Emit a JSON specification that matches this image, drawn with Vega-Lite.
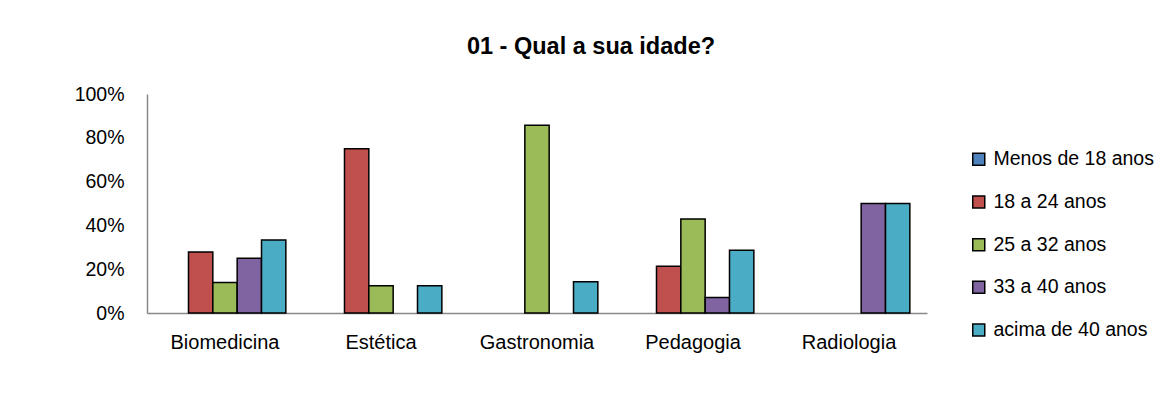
{
  "$schema": "https://vega.github.io/schema/vega-lite/v6.json",
  "width": 780,
  "height": 219,
  "autosize": {"type": "none"},
  "padding": {"left": 147, "top": 94, "right": 247, "bottom": 107},
  "background": "white",
  "title": {
    "text": "01 - Qual a sua idade?",
    "anchor": "middle",
    "frame": "group",
    "dx": 54,
    "offset": 7,
    "baseline": "alphabetic",
    "font": "Liberation Sans",
    "fontSize": 23.5,
    "fontWeight": "bold",
    "color": "#000000"
  },
  "data": {
    "values": [
      {"curso": "Biomedicina", "faixa": "Menos de 18 anos", "pct": 0},
      {"curso": "Biomedicina", "faixa": "18 a 24 anos", "pct": 0.278},
      {"curso": "Biomedicina", "faixa": "25 a 32 anos", "pct": 0.139},
      {"curso": "Biomedicina", "faixa": "33 a 40 anos", "pct": 0.25},
      {"curso": "Biomedicina", "faixa": "acima de 40 anos", "pct": 0.333},
      {"curso": "Estética", "faixa": "Menos de 18 anos", "pct": 0},
      {"curso": "Estética", "faixa": "18 a 24 anos", "pct": 0.75},
      {"curso": "Estética", "faixa": "25 a 32 anos", "pct": 0.125},
      {"curso": "Estética", "faixa": "33 a 40 anos", "pct": 0},
      {"curso": "Estética", "faixa": "acima de 40 anos", "pct": 0.125},
      {"curso": "Gastronomia", "faixa": "Menos de 18 anos", "pct": 0},
      {"curso": "Gastronomia", "faixa": "18 a 24 anos", "pct": 0},
      {"curso": "Gastronomia", "faixa": "25 a 32 anos", "pct": 0.857},
      {"curso": "Gastronomia", "faixa": "33 a 40 anos", "pct": 0},
      {"curso": "Gastronomia", "faixa": "acima de 40 anos", "pct": 0.143},
      {"curso": "Pedagogia", "faixa": "Menos de 18 anos", "pct": 0},
      {"curso": "Pedagogia", "faixa": "18 a 24 anos", "pct": 0.214},
      {"curso": "Pedagogia", "faixa": "25 a 32 anos", "pct": 0.429},
      {"curso": "Pedagogia", "faixa": "33 a 40 anos", "pct": 0.071},
      {"curso": "Pedagogia", "faixa": "acima de 40 anos", "pct": 0.286},
      {"curso": "Radiologia", "faixa": "Menos de 18 anos", "pct": 0},
      {"curso": "Radiologia", "faixa": "18 a 24 anos", "pct": 0},
      {"curso": "Radiologia", "faixa": "25 a 32 anos", "pct": 0},
      {"curso": "Radiologia", "faixa": "33 a 40 anos", "pct": 0.5},
      {"curso": "Radiologia", "faixa": "acima de 40 anos", "pct": 0.5}
    ]
  },
  "mark": {"type": "bar", "stroke": "#000000", "strokeWidth": 1.5},
  "encoding": {
    "x": {
      "field": "curso",
      "type": "nominal",
      "sort": null,
      "scale": {"paddingInner": 0.22, "paddingOuter": 0.11},
      "axis": {
        "title": null,
        "labelAngle": 0,
        "ticks": false,
        "labelPadding": 19,
        "labelFont": "Liberation Sans",
        "labelFontSize": 20,
        "labelColor": "#000000",
        "domainColor": "#898989",
        "domainWidth": 1.5,
        "grid": false
      }
    },
    "xOffset": {
      "field": "faixa",
      "type": "nominal",
      "sort": null,
      "scale": {"paddingInner": 0, "paddingOuter": 0}
    },
    "y": {
      "field": "pct",
      "type": "quantitative",
      "scale": {"domain": [0, 1], "nice": false},
      "axis": {
        "title": null,
        "format": ".0%",
        "values": [0, 0.2, 0.4, 0.6, 0.8, 1],
        "ticks": false,
        "grid": false,
        "labelPadding": 23,
        "labelFont": "Liberation Sans",
        "labelFontSize": 19.5,
        "labelColor": "#000000",
        "domainColor": "#898989",
        "domainWidth": 1.5
      }
    },
    "color": {
      "field": "faixa",
      "type": "nominal",
      "sort": null,
      "scale": {
        "domain": ["Menos de 18 anos", "18 a 24 anos", "25 a 32 anos", "33 a 40 anos", "acima de 40 anos"],
        "range": ["#4F81BD", "#C0504D", "#9BBB59", "#8064A2", "#4BACC6"]
      },
      "legend": {
        "title": null,
        "orient": "none",
        "legendX": 822,
        "legendY": 55.5,
        "padding": 0,
        "symbolType": "square",
        "symbolSize": 144,
        "symbolStrokeColor": "#000000",
        "symbolStrokeWidth": 1.5,
        "symbolOpacity": 1,
        "labelFont": "Liberation Sans",
        "labelFontSize": 19.5,
        "labelColor": "#000000",
        "labelOffset": 5,
        "rowPadding": 21.7,
        "labelLimit": 300
      }
    },
    "strokeOpacity": {
      "condition": {"test": "datum.pct > 0", "value": 1},
      "value": 0
    }
  },
  "config": {"view": {"stroke": null}}
}
